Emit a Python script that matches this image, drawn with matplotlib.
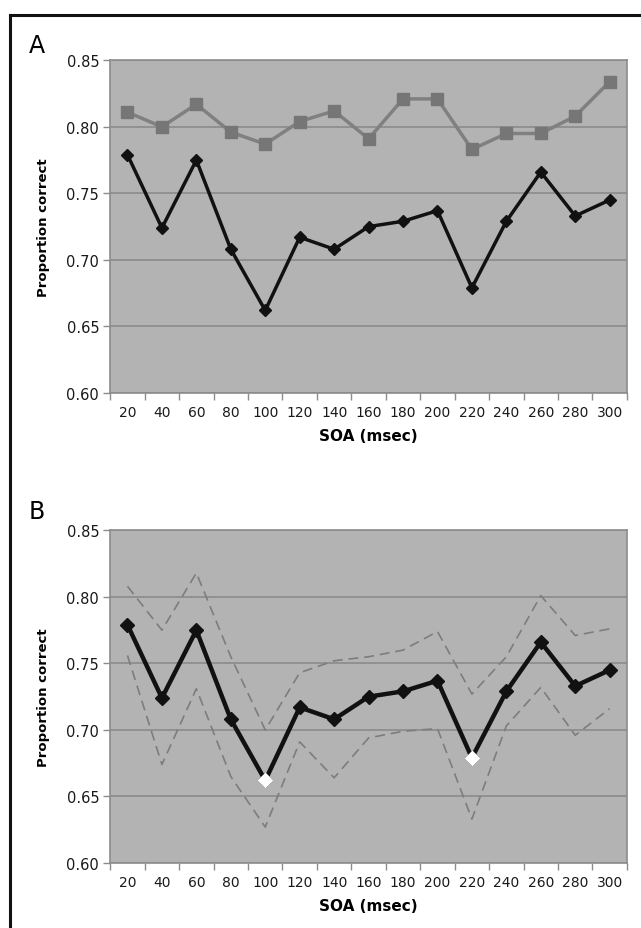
import matplotlib
matplotlib.use("Agg")
import matplotlib.pyplot as plt
from matplotlib.lines import Line2D

# SOA values (msec)
soa = [20, 40, 60, 80, 100, 120, 140, 160, 180, 200, 220, 240, 260, 280, 300]

# Panel A
gray_series = [0.811, 0.800, 0.817, 0.796, 0.787, 0.804, 0.812, 0.791, 0.821, 0.821,
               0.783, 0.795, 0.795, 0.808, 0.834]
black_series = [0.779, 0.724, 0.775, 0.708, 0.662, 0.717, 0.708, 0.725, 0.729, 0.737,
                0.679, 0.729, 0.766, 0.733, 0.745]

# Panel B confidence bounds
upper_bound = [0.808, 0.775, 0.818, 0.755, 0.700, 0.743, 0.752, 0.755, 0.760, 0.774,
               0.727, 0.755, 0.801, 0.771, 0.776]
lower_bound = [0.756, 0.674, 0.731, 0.665, 0.627, 0.691, 0.664, 0.694, 0.699, 0.701,
               0.633, 0.703, 0.732, 0.696, 0.716]
highlight_soa = [100, 220]

bg = "#b3b3b3"
grid_col = "#878787"
edge_col = "#8c8c8c"

fig = plt.figure(figsize=(6.41, 9.29), dpi=100)


def style_axes(ax):
    ax.set_facecolor(bg)
    ax.set_xlim(-0.5, len(soa) - 0.5)
    ax.set_ylim(0.60, 0.85)
    ax.set_yticks([0.60, 0.65, 0.70, 0.75, 0.80, 0.85])
    ax.set_yticklabels(["%.2f" % v for v in [0.60, 0.65, 0.70, 0.75, 0.80, 0.85]])
    ax.yaxis.grid(True, color=grid_col, linewidth=1.1)
    ax.set_axisbelow(True)
    # category axis: labels at centres, ticks between categories
    ax.set_xticks(range(len(soa)))
    ax.set_xticklabels([str(s) for s in soa])
    ax.set_xticks([i - 0.5 for i in range(len(soa) + 1)], minor=True)
    ax.tick_params(axis="x", which="major", length=0, labelsize=10, pad=9, colors="#1a1a1a")
    ax.tick_params(axis="x", which="minor", length=5, width=1, color=edge_col)
    ax.tick_params(axis="y", length=5, width=1, color=edge_col, labelsize=10.5,
                   pad=3, labelcolor="#1a1a1a")
    for sp in ax.spines.values():
        sp.set_color(edge_col)
        sp.set_linewidth(1.2)
    ax.set_xlabel("SOA (msec)", fontsize=11, fontweight="bold", labelpad=6)
    ax.set_ylabel("Proportion correct", fontsize=9.5, fontweight="bold", labelpad=12)


x = list(range(len(soa)))

# Panel A
axA = fig.add_axes([0.172, 0.576, 0.806, 0.358])
style_axes(axA)
axA.plot(x, gray_series, color="#808080", linewidth=2.5, marker="s", markersize=8.5,
         markerfacecolor="#767676", markeredgecolor="#767676")
axA.plot(x, black_series, color="#111111", linewidth=2.5, marker="D", markersize=6.5,
         markerfacecolor="#111111", markeredgecolor="#111111")

# Panel B
axB = fig.add_axes([0.172, 0.070, 0.806, 0.358])
style_axes(axB)
axB.plot(x, upper_bound, color="#7d7d7d", linewidth=1.2, linestyle=(0, (6, 3.5)))
axB.plot(x, lower_bound, color="#7d7d7d", linewidth=1.2, linestyle=(0, (6, 3.5)))
axB.plot(x, black_series, color="#111111", linewidth=3.2, marker="D", markersize=7,
         markerfacecolor="#111111", markeredgecolor="#111111")
hx = [soa.index(s) for s in highlight_soa]
hy = [black_series[i] for i in hx]
axB.plot(hx, hy, linestyle="none", marker="D", markersize=7,
         markerfacecolor="white", markeredgecolor="white")

# panel letters
fig.text(0.058, 0.951, "A", fontsize=17, ha="center", va="center")
fig.text(0.058, 0.449, "B", fontsize=17, ha="center", va="center")

# frame lines on top and left
fig.add_artist(Line2D([0.015, 1.0], [0.983, 0.983], color="#111111", linewidth=2.2,
                      transform=fig.transFigure))
fig.add_artist(Line2D([0.015, 0.015], [0.0, 0.983], color="#111111", linewidth=2.2,
                      transform=fig.transFigure))

plt.savefig("out.png", dpi=100)
plt.close()
